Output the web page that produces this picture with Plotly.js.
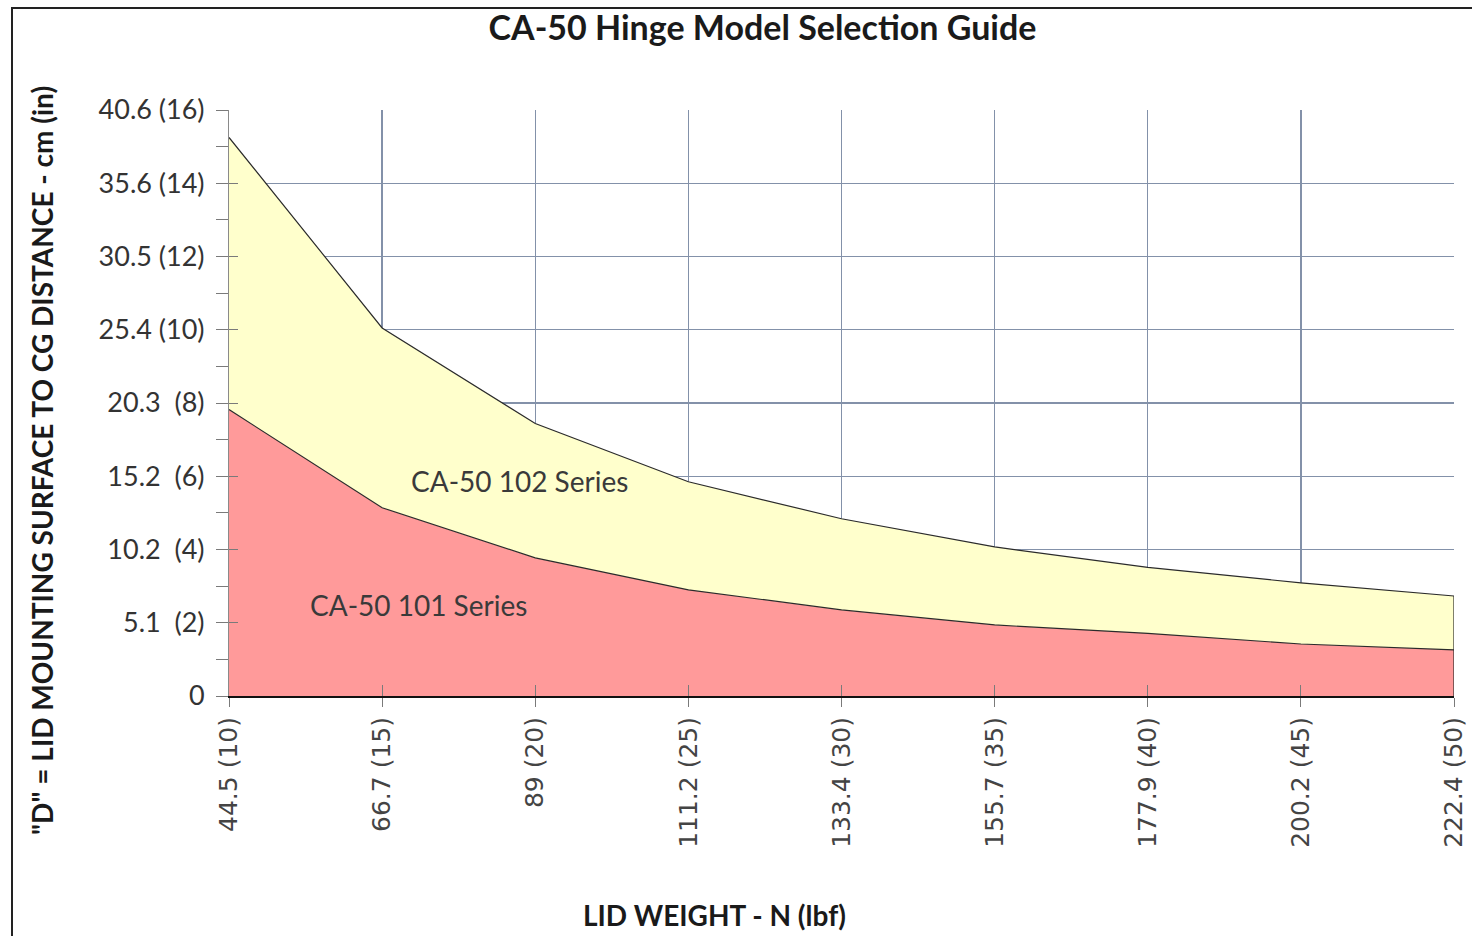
<!DOCTYPE html>
<html>
<head>
<meta charset="utf-8">
<script src="https://cdn.plot.ly/plotly-3.0.1.min.js"></script>
<style>
html,body{margin:0;padding:0;background:#fff;overflow:hidden;width:1472px;height:936px;}
#frame{position:absolute;left:11px;top:7px;width:1500px;height:1000px;border:2px solid #222;box-sizing:border-box;}
#chart{position:absolute;left:0;top:0;width:1472px;height:936px;}
</style>
</head>
<body>
<div id="frame"></div>
<div id="chart"></div>
<script>
// Lid weight in lbf (x positions) and their labels N (lbf)
const lidWeightLbf = [10, 15, 20, 25, 30, 35, 40, 45, 50];
const xTickLabels = ["44.5 (10)", "66.7 (15)", "89 (20)", "111.2 (25)", "133.4 (30)", "155.7 (35)", "177.9 (40)", "200.2 (45)", "222.4 (50)"];

// "D" distance limits in inches
const series101 = [7.82, 5.14, 3.77, 2.90, 2.35, 1.94, 1.71, 1.42, 1.26];
const series102 = [15.25, 10.05, 7.44, 5.85, 4.84, 4.07, 3.51, 3.09, 2.73];

// Y tick values (in) and labels cm (in)
const yTickVals = [0, 2, 4, 6, 8, 10, 12, 14, 16];
const yTickLabels = ["0", "5.1\u00a0\u00a0(2)", "10.2\u00a0\u00a0(4)", "15.2\u00a0\u00a0(6)", "20.3\u00a0\u00a0(8)", "25.4 (10)", "30.5 (12)", "35.6 (14)", "40.6 (16)"];

const FONT = "Lato, 'Open Sans', 'Liberation Sans', sans-serif";
const XFONT = "'DejaVu Sans', 'Open Sans', sans-serif";
const GRID = "#8391a9";
const TICK = "#7a7a7a";

const last = lidWeightLbf.length - 1;

const traces = [
  {
    x: lidWeightLbf, y: series101, type: "scatter", mode: "lines",
    fill: "tozeroy", fillcolor: "#ff9a9a",
    line: {color: "#2b2b2b", width: 1.2}, name: "CA-50 101 Series", hoverinfo: "x+y"
  },
  {
    x: lidWeightLbf, y: series102, type: "scatter", mode: "lines",
    fill: "tonexty", fillcolor: "#ffffcc",
    line: {color: "#2b2b2b", width: 1.2}, name: "CA-50 102 Series", hoverinfo: "x+y"
  },
  {
    x: [lidWeightLbf[last], lidWeightLbf[last]], y: [0, series102[last]],
    type: "scatter", mode: "lines", line: {color: "#2b2b2b", width: 1.2},
    hoverinfo: "skip", showlegend: false
  },
  // carrier for the overlaid axes that draw the inner half of the crossing ticks
  {
    x: lidWeightLbf, y: series101, xaxis: "x2", yaxis: "y2", type: "scatter", mode: "lines",
    line: {width: 0, color: "rgba(0,0,0,0)"}, hoverinfo: "skip", showlegend: false
  }
];

const layout = {
  width: 1472, height: 936,
  margin: {l: 229, r: 18, t: 110, b: 240},
  paper_bgcolor: "rgba(0,0,0,0)",
  plot_bgcolor: "#ffffff",
  showlegend: false,
  font: {family: FONT, color: "#3a3a3a", size: 22},
  title: {
    text: "<b>CA-50 Hinge Model Selection Guide</b>",
    font: {family: FONT, size: 34, color: "#1a1a1a"},
    x: 0.518, xref: "container", xanchor: "center",
    y: 0.970, yref: "container", yanchor: "middle"
  },
  xaxis: {
    range: [10, 50],
    tickvals: lidWeightLbf, ticktext: xTickLabels,
    tickangle: -90,
    ticks: "outside", ticklen: 9, tickcolor: TICK, tickwidth: 1,
    showgrid: true, gridcolor: GRID, gridwidth: 1.3,
    zeroline: false,
    showline: true, linecolor: "#111", linewidth: 2,
    tickfont: {family: XFONT, size: 25, color: "#444"},
    fixedrange: true
  },
  yaxis: {
    range: [0, 16],
    tickvals: yTickVals, ticktext: yTickLabels,
    ticks: "outside", ticklen: 12, tickcolor: TICK, tickwidth: 1,
    ticklabelstandoff: 6,
    minor: {dtick: 1, tick0: 0, ticks: "outside", ticklen: 12, tickcolor: TICK, showgrid: false},
    showgrid: true, gridcolor: GRID, gridwidth: 1.3,
    zeroline: false,
    showline: true, linecolor: "#8a8a8a", linewidth: 1,
    tickfont: {family: FONT, size: 27, color: "#333"},
    fixedrange: true
  },
  xaxis2: {
    overlaying: "x", matches: "x", anchor: "y2", side: "bottom",
    tickvals: lidWeightLbf, ticks: "inside", ticklen: 11, tickcolor: TICK, tickwidth: 1,
    showticklabels: false, showgrid: false, zeroline: false, showline: false, fixedrange: true
  },
  yaxis2: {
    overlaying: "y", matches: "y", anchor: "x2", side: "left",
    tickvals: yTickVals, ticks: "inside", ticklen: 9, tickcolor: TICK, tickwidth: 1,
    showticklabels: false, showgrid: false, zeroline: false, showline: false, fixedrange: true
  },
  annotations: [
    {x: 19.5, y: 5.87, xref: "x", yref: "y", text: "CA-50 102 Series", showarrow: false,
     font: {family: FONT, size: 28, color: "#3a3a3a"}},
    {x: 16.2, y: 2.48, xref: "x", yref: "y", text: "CA-50 101 Series", showarrow: false,
     font: {family: FONT, size: 28, color: "#3a3a3a"}},
    {x: -0.1527, y: 0.4027, xref: "paper", yref: "paper", textangle: -90,
     xanchor: "center", yanchor: "middle", showarrow: false,
     text: "<b>\"D\" = LID MOUNTING SURFACE TO CG DISTANCE - cm (in)</b>",
     font: {family: FONT, size: 28, color: "#1a1a1a"}},
    {x: 0.3967, y: -0.3737, xref: "paper", yref: "paper",
     xanchor: "center", yanchor: "middle", showarrow: false,
     text: "<b>LID WEIGHT - N (lbf)</b>",
     font: {family: FONT, size: 28, color: "#1a1a1a"}}
  ]
};

Plotly.newPlot("chart", traces, layout, {displayModeBar: false, staticPlot: true});
</script>
</body>
</html>
